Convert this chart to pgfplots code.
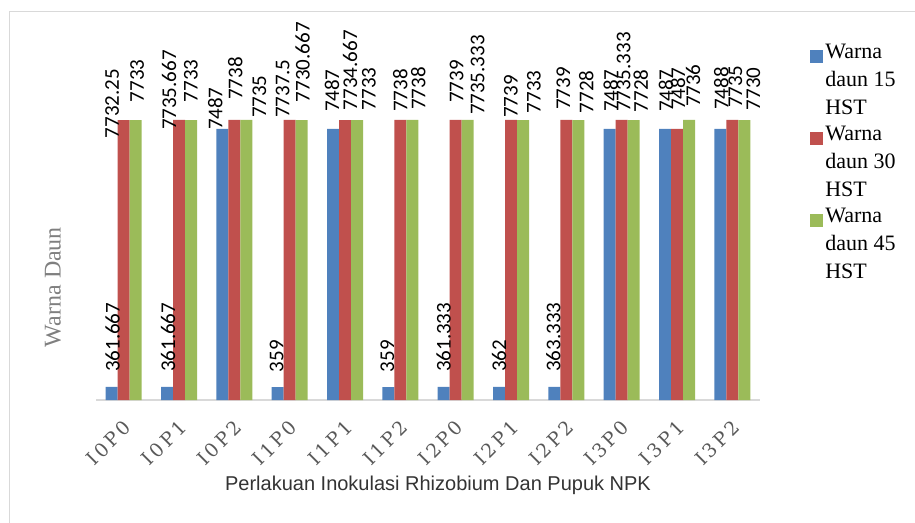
\documentclass[border=0pt]{standalone}
\usepackage{fontspec}
\usepackage{pgfplots}
\usepackage{pgfplotstable}
\pgfplotsset{compat=1.18}
\setmainfont{Liberation Serif}
\newfontfamily\lblfont{Carlito}
\newfontfamily\tickfam{DejaVu Serif}
\newfontfamily\sansfam{Liberation Sans}
\definecolor{cblue}{HTML}{4F81BD}
\definecolor{cred}{HTML}{C0504D}
\definecolor{cgreen}{HTML}{9BBB59}
\definecolor{bordergray}{HTML}{D9D9D9}
\definecolor{ticktext}{HTML}{595959}
\definecolor{ylabgray}{HTML}{7F7F7F}
\newcommand\tl[4]{#1\kern3pt#2\kern3pt#3\kern3pt#4}

\pgfplotstableread{
x y dx dy lbl
0 361.667 1 15 361.667
1 361.667 1 15 361.667
2 7487 -7 -1 7487
3 359 -1 15 359
4 7487 -1 17 7487
5 359 -1 15 359
6 361.333 0 15 361.333
7 362 0 15 362
8 363.333 -1 15 363.333
9 7487 1 17 7487
10 7487 1 17 7487
11 7488 1 19 7488
}\tblA

\pgfplotstableread{
x y dx dy lbl
0 7732.25 -11.5 -18 7732.25
1 7735.667 -10 -10 7735.667
2 7738 1 20 7738
3 7737.5 -7 2 7737.5
4 7734.667 5 10 7734.667
5 7738 0 8 7738
6 7739 1 17 7739
7 7739 0 2 7739
8 7739 -3 10 7739
9 7735.333 2 8 7735.333
10 7487 1 19 7487
11 7735 3 12 7735
}\tblB

\pgfplotstableread{
x y dx dy lbl
0 7733 1.5 18 7733
1 7733 0 18 7733
2 7735 13 2 7735
3 7730.667 1 18 7730.667
4 7733 12 10 7733
5 7738 6 10 7738
6 7735.333 10 5 7735.333
7 7733 11 7 7733
8 7728 8 7 7728
9 7728 7 8 7728
10 7736 4 13 7736
11 7730 9 10 7730
}\tblC

\pgfplotsset{
  lblstyle/.style={
    nodes near coords,
    point meta=explicit symbolic,
    visualization depends on={\thisrow{dx}\as\mydx},
    visualization depends on={\thisrow{dy}\as\mydy},
    every node near coord/.append style={xshift=\mydx pt, yshift=\mydy pt, rotate=90, anchor=west, inner sep=0pt, outer sep=0pt, font=\lblfont\fontsize{21}{21}\selectfont, text=black},
    legend image code/.code={\path[fill=none,draw=none] (0pt,-30pt) rectangle (13pt,30pt); \fill[##1] (0pt,17pt) rectangle (13pt,30pt);},
  }
}

\begin{document}
\begin{tikzpicture}[x=1pt,y=1pt]
\path[use as bounding box] (0,0) rectangle (915,522);
\draw[bordergray, line width=1pt] (9,-2) -- (9,510) -- (917,510);
\begin{axis}[
  at={(96pt,122pt)}, anchor=south west,
  scale only axis, width=664pt, height=362pt,
  ybar=0pt, bar width=12pt,
  xmin=-0.5, xmax=11.5, ymin=0, ymax=10000,
  axis lines*=left,
  y axis line style={draw=none},
  x axis line style={draw=bordergray, line width=1.5pt, -},
  ytick=\empty,
  xtick={0,...,11},
  xticklabels={\tl I0P0,\tl I0P1,\tl I0P2,\tl I1P0,\tl I1P1,\tl I1P2,\tl I2P0,\tl I2P1,\tl I2P2,\tl I3P0,\tl I3P1,\tl I3P2},
  major tick length=0pt,
  xticklabel style={xshift=4pt, yshift=-24pt, rotate=45, anchor=east, inner sep=0pt, font=\tickfam\fontsize{19}{19}\selectfont, text=ticktext},
  clip=false,
  legend style={at={(1.0755,0.988)}, anchor=north west, draw=none, fill=none,
    font=\fontsize{22}{28}\selectfont, inner sep=0pt, row sep=6pt,
    cells={align=left}, /tikz/every even column/.append style={column sep=6pt}},
  legend cell align=left,
]
\addplot[fill=cblue, draw=none, lblstyle] table[x=x, y=y, meta=lbl] {\tblA};
\addlegendentry{Warna\\daun 15\\HST}
\addplot[fill=cred, draw=none, lblstyle] table[x=x, y=y, meta=lbl] {\tblB};
\addlegendentry{Warna\\daun 30\\HST}
\addplot[fill=cgreen, draw=none, lblstyle] table[x=x, y=y, meta=lbl] {\tblC};
\addlegendentry{Warna\\daun 45\\HST}
\end{axis}
\node[rotate=90, text=ylabgray, font=\fontsize{24}{24}\selectfont] at (53,235) {Warna Daun};
\node[text=black!80, font=\sansfam\fontsize{20}{20}\selectfont] at (438,37) {Perlakuan Inokulasi Rhizobium Dan Pupuk NPK};
\end{tikzpicture}
\end{document}
